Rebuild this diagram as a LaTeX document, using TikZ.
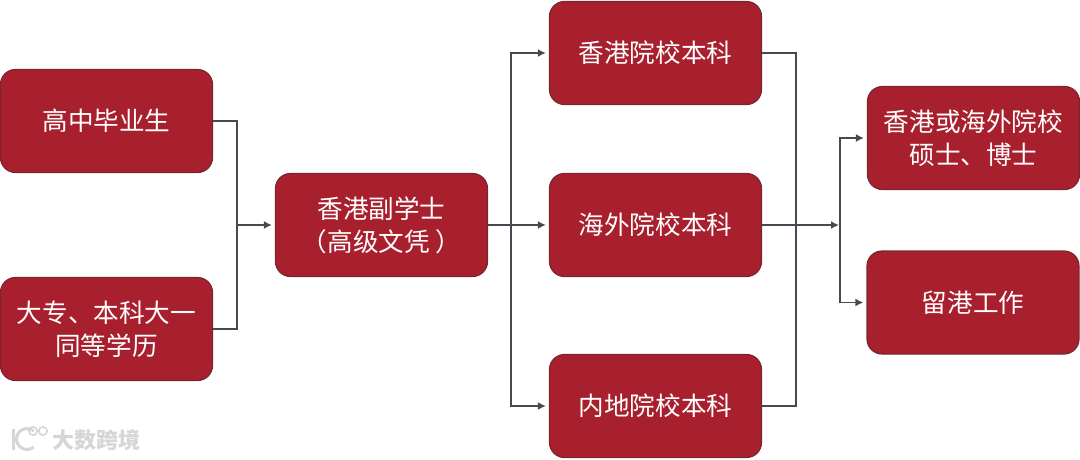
\documentclass[tikz,border=0pt]{standalone}
\usepackage{fontspec}
\setmainfont{Noto Sans CJK SC}
\usetikzlibrary{arrows.meta}
\definecolor{boxRed}{RGB}{168, 32, 46}
\definecolor{boxEdge}{RGB}{122, 38, 48}
\definecolor{lineGrey}{RGB}{72, 72, 80}
\definecolor{markGrey}{RGB}{214, 214, 214}
\tikzset{
  stagebox/.style={draw=boxEdge, line width=1.2pt, fill=boxRed, rounded corners=15pt, text=white,
    minimum width=212pt, minimum height=103pt, inner sep=0pt, align=center,
    font=\fontsize{25.6}{33}\selectfont},
  flowline/.style={draw=lineGrey, line width=1.8pt},
  flowarrow/.style={flowline, -{Latex[length=8pt,width=8pt]}, shorten >=3pt},
}

\begin{document}
\begin{tikzpicture}[x=1pt,y=-1pt]
  \useasboundingbox (0,0) rectangle (1080,459);

  % 1. Entry
  \node[stagebox] (highSchool) at (106.5,121) {高中毕业生};
  \node[stagebox] (college) at (106.5,329) {大专、本科大一\\同等学历};

  % 2. Associate degree
  \node[stagebox] (associate) at (381.5,225) {香港副学士\\（高级文凭 ）};

  % 3. Bachelor
  \node[stagebox] (hkBachelor) at (655.5,53) {香港院校本科};
  \node[stagebox] (abroadBachelor) at (655.5,225) {海外院校本科};
  \node[stagebox] (mainlandBachelor) at (655.5,406) {内地院校本科};

  % 4. Outcome
  \node[stagebox] (postgrad) at (973.5,138) {香港或海外院校\\硕士、博士};
  \node[stagebox] (hkWork) at (973,302.5) {留港工作};

  % bus lines
  \coordinate (entryBus) at (237,225);
  \coordinate (bachelorBus) at (511,225);
  \coordinate (returnBus) at (796,225);
  \coordinate (outcomeBus) at (840,225);

  \draw[flowline] (highSchool.east) -| (entryBus) |- (college.east);
  \draw[flowarrow] (entryBus) -- (associate.west);

  \draw[flowline] (associate.east) -- (bachelorBus);
  \draw[flowarrow] (bachelorBus) |- (hkBachelor.west);
  \draw[flowarrow] (bachelorBus) -- (abroadBachelor.west);
  \draw[flowarrow] (bachelorBus) |- (mainlandBachelor.west);

  \draw[flowline] (hkBachelor.east) -| (returnBus) |- (mainlandBachelor.east);
  \draw[flowarrow, shorten >=1pt] (abroadBachelor.east) -- (outcomeBus);
  \draw[flowarrow] (outcomeBus) |- (postgrad.west);
  \draw[flowarrow] (outcomeBus) |- (hkWork.west);

  % watermark
  \draw[markGrey, line width=3pt] (13.5,429) -- (13.5,450);
  \draw[markGrey, line width=3pt] (33.75,431) arc (-50:-310:10.5);
  \draw[markGrey, line width=1.6pt] (33,431) circle (4.2);
  \draw[markGrey, line width=1.6pt] (43,431) circle (4.2);
  \node[text=markGrey, inner sep=0pt, font=\fontsize{22}{22}\selectfont\bfseries] (markText) at (96.5,440) {大数跨境};
\end{tikzpicture}
\end{document}
